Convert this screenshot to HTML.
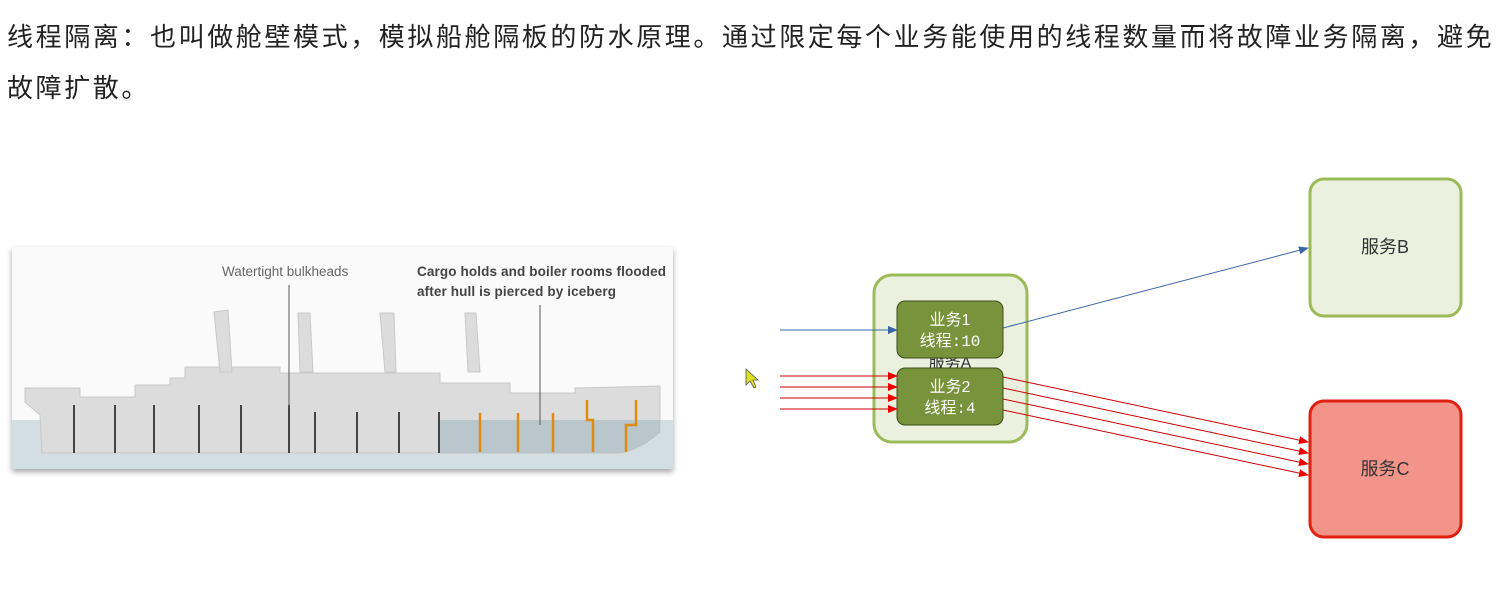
<!DOCTYPE html>
<html><head><meta charset="utf-8"><style>
body{margin:0;width:1506px;height:591px;background:#fff;position:relative;overflow:hidden;font-family:"Liberation Sans","Noto Sans CJK SC",sans-serif}
.t{position:absolute;left:7px;font-size:26px;letter-spacing:2.6px;color:#222;white-space:nowrap;line-height:30px}
</style></head><body>
<div class="t" style="top:22px">线程隔离：也叫做舱壁模式，模拟船舱隔板的防水原理。通过限定每个业务能使用的线程数量而将故障业务隔离，避免</div>
<div class="t" style="top:73px">故障扩散。</div>
<svg width="1506" height="591" style="position:absolute;left:0;top:0" font-family="Liberation Sans,Noto Sans CJK SC,sans-serif">
<defs><filter id="sh" x="-5%" y="-5%" width="110%" height="115%"><feDropShadow dx="0" dy="3" stdDeviation="3" flood-color="#000" flood-opacity="0.35"/></filter>
<marker id="ab" markerWidth="10" markerHeight="8" refX="9" refY="4" orient="auto" markerUnits="userSpaceOnUse"><path d="M0,0L10,4L0,8z" fill="#3a66a8"/></marker>
<marker id="ar" markerWidth="10" markerHeight="8" refX="9" refY="4" orient="auto" markerUnits="userSpaceOnUse"><path d="M0,0L10,4L0,8z" fill="#e00"/></marker></defs>
<rect x="12" y="247" width="661" height="222" fill="#fafafa" filter="url(#sh)"/>
<rect x="12" y="420" width="661" height="49" fill="#d3dee3"/>
<g fill="#dcdcdc" stroke="#c8c8c8">
<path d="M25,388 L80,388 L80,397 L135,397 L135,385 L170,385 L170,378 L185,378 L185,367 L280,367 L280,373 L440,373 L440,383 L510,383 L510,393 L575,393 L575,388 L660,386 L660,432 Q640,450 620,453 L42,453 L40,415 L25,402z"/>
<path d="M214,312 L228,310 L232,372 L220,372z"/>
<path d="M298,313 L310,313 L313,372 L300,372z"/>
<path d="M380,313 L394,313 L396,372 L385,372z"/>
<path d="M465,313 L476,313 L480,372 L468,372z"/>
</g>
<path d="M439,420 L660,420 L660,432 Q640,450 620,453 L439,453z" fill="#a9bcc4" opacity=".7"/>
<g stroke="#444" stroke-width="2"><line x1="74" y1="405" x2="74" y2="453"/><line x1="115" y1="405" x2="115" y2="453"/><line x1="154" y1="405" x2="154" y2="453"/><line x1="199" y1="405" x2="199" y2="453"/><line x1="241" y1="405" x2="241" y2="453"/><line x1="289" y1="405" x2="289" y2="453"/><line x1="315" y1="412" x2="315" y2="453"/><line x1="357" y1="412" x2="357" y2="453"/><line x1="399" y1="412" x2="399" y2="453"/><line x1="439" y1="412" x2="439" y2="453"/></g>
<g stroke="#e08a10" stroke-width="2.5" fill="none"><line x1="480" y1="413" x2="480" y2="452"/><line x1="518" y1="413" x2="518" y2="452"/><line x1="553" y1="413" x2="553" y2="452"/><path d="M587,400 L587,420 L593,420 L593,452"/><path d="M636,400 L636,425 L626,425 L626,452"/></g>
<line x1="289" y1="285" x2="289" y2="408" stroke="#555"/><line x1="540" y1="305" x2="540" y2="425" stroke="#555"/>
<text x="222" y="276" font-size="13.5" fill="#666">Watertight bulkheads</text>
<text x="417" y="276" font-size="13.5" font-weight="bold" fill="#444" textLength="249">Cargo holds and boiler rooms flooded</text>
<text x="417" y="296" font-size="13.5" font-weight="bold" fill="#444" textLength="199">after hull is pierced by iceberg</text>
<rect x="874" y="275" width="153" height="167" rx="18" fill="#ebf1de" stroke="#9bbb59" stroke-width="3"/>
<text x="950" y="368" font-size="16" text-anchor="middle" fill="#333">服务A</text>
<rect x="897" y="301" width="106" height="57" rx="8" fill="#77933c" stroke="#3d4f1a"/>
<text x="950" y="325" font-size="16" text-anchor="middle" fill="#fff">业务1</text>
<text x="950" y="346" font-size="16" text-anchor="middle" fill="#fff" font-family="Liberation Mono,Noto Sans CJK SC,monospace">线程:10</text>
<rect x="897" y="368" width="106" height="57" rx="8" fill="#77933c" stroke="#3d4f1a"/>
<text x="950" y="392" font-size="16" text-anchor="middle" fill="#fff">业务2</text>
<text x="950" y="413" font-size="16" text-anchor="middle" fill="#fff" font-family="Liberation Mono,Noto Sans CJK SC,monospace">线程:4</text>
<rect x="1310" y="179" width="151" height="137" rx="14" fill="#ebf1de" stroke="#9bbb59" stroke-width="3"/>
<text x="1385" y="253" font-size="18" text-anchor="middle" fill="#333">服务B</text>
<rect x="1310" y="401" width="151" height="136" rx="14" fill="#f2948a" stroke="#e02010" stroke-width="3"/>
<text x="1385" y="475" font-size="18" text-anchor="middle" fill="#333">服务C</text>
<line x1="780" y1="330" x2="897" y2="330" stroke="#3a66a8" marker-end="url(#ab)"/>
<line x1="1003" y1="328" x2="1308" y2="248" stroke="#3a66a8" marker-end="url(#ab)"/>
<g stroke="#c00" marker-end="url(#ar)">
<line x1="780" y1="376" x2="897" y2="376"/><line x1="780" y1="387" x2="897" y2="387"/><line x1="780" y1="398" x2="897" y2="398"/><line x1="780" y1="409" x2="897" y2="409"/>
<line x1="1003" y1="377" x2="1308" y2="442"/><line x1="1003" y1="388" x2="1308" y2="453"/><line x1="1003" y1="399" x2="1308" y2="464"/><line x1="1003" y1="410" x2="1308" y2="475"/>
</g>
<path d="M746,369 L746,385 L750,381 L754,388 L756,387 L753,380 L758,380z" fill="#dde020" stroke="#555" stroke-width=".8"/>
</svg>
</body></html>
